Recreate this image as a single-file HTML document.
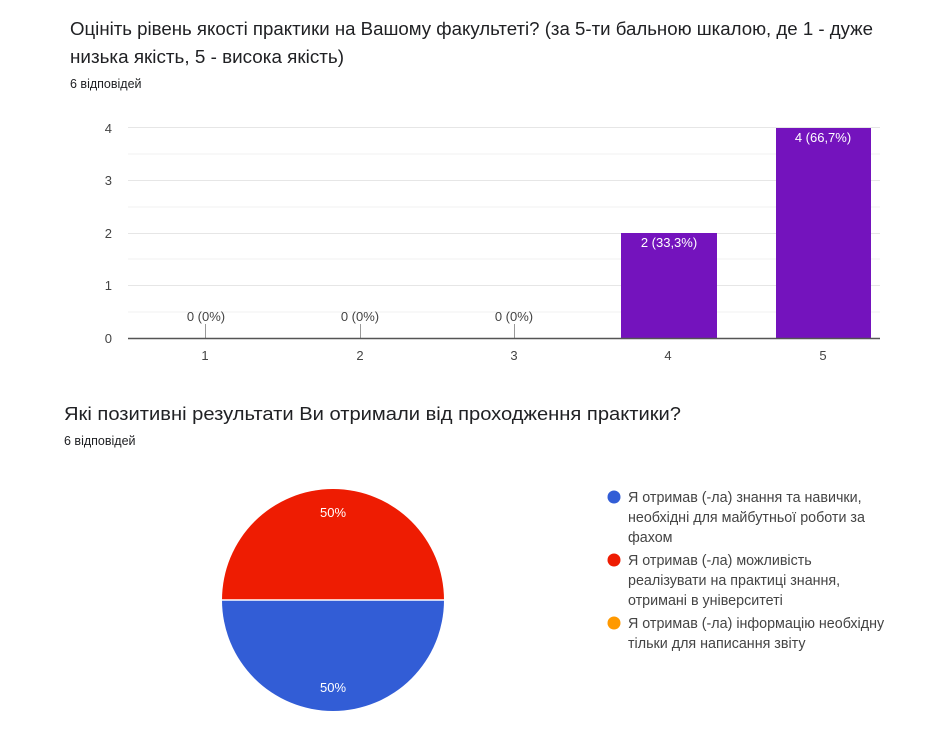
<!DOCTYPE html>
<html><head><meta charset="utf-8"><style>
body{margin:0;background:#fff;}
svg text{font-family:"Liberation Sans","DejaVu Sans",sans-serif;}
</style></head><body>
<svg width="925" height="730" xmlns="http://www.w3.org/2000/svg">
<rect width="925" height="730" fill="#fff"/>
<text x="70" y="35" font-size="18" fill="#202124" textLength="803" lengthAdjust="spacingAndGlyphs">Оцініть рівень якості практики на Вашому факультеті? (за 5-ти бальною шкалою, де 1 - дуже</text>
<text x="70" y="63" font-size="18" fill="#202124" textLength="274" lengthAdjust="spacingAndGlyphs">низька якість, 5 - висока якість)</text>
<text x="70" y="88" font-size="12.5" fill="#202124">6 відповідей</text>
<g stroke="#f0f0f0" stroke-width="1">
<line x1="128" y1="154" x2="880" y2="154"/><line x1="128" y1="207" x2="880" y2="207"/>
<line x1="128" y1="259" x2="880" y2="259"/><line x1="128" y1="312" x2="880" y2="312"/>
</g>
<g stroke="#e6e6e6" stroke-width="1">
<line x1="128" y1="127.5" x2="880" y2="127.5"/><line x1="128" y1="180.5" x2="880" y2="180.5"/>
<line x1="128" y1="233.5" x2="880" y2="233.5"/><line x1="128" y1="285.5" x2="880" y2="285.5"/>
</g>
<g font-size="13" fill="#444" text-anchor="end">
<text x="112" y="133">4</text><text x="112" y="185">3</text><text x="112" y="238">2</text><text x="112" y="290">1</text><text x="112" y="343">0</text>
</g>
<rect x="621" y="233" width="96" height="105" fill="#7413bd"/>
<rect x="776" y="128" width="95" height="210" fill="#7413bd"/>
<g stroke="#999" stroke-width="1">
<line x1="205.5" y1="324" x2="205.5" y2="338"/><line x1="360.5" y1="324" x2="360.5" y2="338"/><line x1="514.5" y1="324" x2="514.5" y2="338"/>
</g>
<line x1="128" y1="338.5" x2="880" y2="338.5" stroke="#555" stroke-width="1.5"/>
<g font-size="13" fill="#444" text-anchor="middle">
<text x="206" y="321">0 (0%)</text><text x="360" y="321">0 (0%)</text><text x="514" y="321">0 (0%)</text>
<text x="205" y="360">1</text><text x="360" y="360">2</text><text x="514" y="360">3</text><text x="668" y="360">4</text><text x="823" y="360">5</text>
<text x="669" y="247" fill="#fff">2 (33,3%)</text><text x="823" y="142" fill="#fff">4 (66,7%)</text>
</g>
<text x="64" y="420" font-size="18" fill="#202124" textLength="617" lengthAdjust="spacingAndGlyphs">Які позитивні результати Ви отримали від проходження практики?</text>
<text x="64" y="445" font-size="12.5" fill="#202124">6 відповідей</text>
<path d="M222,600 A111,111 0 0 1 444,600 Z" fill="#ee1c02"/>
<path d="M222,600 A111,111 0 0 0 444,600 Z" fill="#325dd6"/>
<line x1="222" y1="600" x2="444" y2="600" stroke="#fff" stroke-width="1.5"/>
<g font-size="13" fill="#fff" text-anchor="middle">
<text x="333" y="517">50%</text><text x="333" y="692">50%</text>
</g>
<circle cx="614" cy="497" r="6.5" fill="#325dd6"/>
<circle cx="614" cy="560" r="6.5" fill="#ee1c02"/>
<circle cx="614" cy="623" r="6.5" fill="#ff9900"/>
<g font-size="14.3" fill="#444">
<text x="628" y="502">Я отримав (-ла) знання та навички,</text>
<text x="628" y="522">необхідні для майбутньої роботи за</text>
<text x="628" y="542">фахом</text>
<text x="628" y="565">Я отримав (-ла) можливість</text>
<text x="628" y="585">реалізувати на практиці знання,</text>
<text x="628" y="605">отримані в університеті</text>
<text x="628" y="628">Я отримав (-ла) інформацію необхідну</text>
<text x="628" y="648">тільки для написання звіту</text>
</g>
</svg>
</body></html>
